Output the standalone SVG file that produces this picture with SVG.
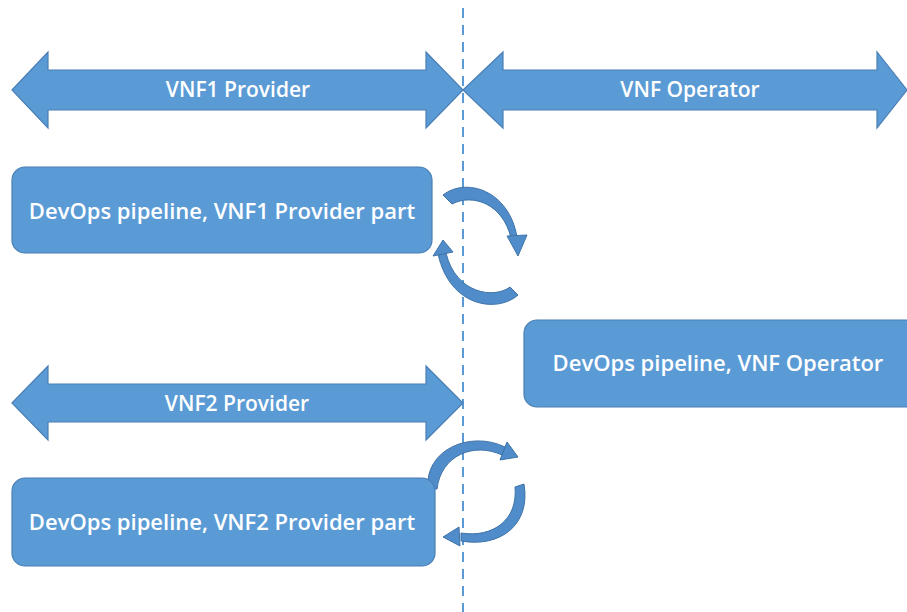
<svg xmlns="http://www.w3.org/2000/svg" width="907" height="612" viewBox="0 0 907 612">
<style>
.shape{fill:#5b9bd5;stroke:#4a7fb5;stroke-width:1.2}
.curve{fill:#4f8cc9;stroke:#3f73a8;stroke-width:1}
.lbl{font-family:"Open Sans","Liberation Sans",sans-serif;font-size:21px;font-weight:600;fill:#ffffff;text-anchor:middle;dominant-baseline:central}
.box{font-size:22px}
</style>
<rect width="907" height="612" fill="#ffffff"/>
<g id="connectors">
<line x1="463" y1="8" x2="463" y2="612" stroke="#5b9bd5" stroke-width="2" stroke-dasharray="10,7"/>
<g id="cycle-top">
<path class="curve" d="M443,195 C466,177 509,190 517,237 L511,238 C503,204 473,193 452,204 Z"/>
<path class="curve" d="M507,236 L527,235 L518,256 Z"/>
<path class="curve" d="M518,295 C498,313 450,308 438,254 L446,253 C456,294 494,299 510,287 Z"/>
<path class="curve" d="M433,256 L453,252 L443,240 Z"/>
</g>
<g id="cycle-bottom">
<path class="curve" d="M428,489 C424,450 470,430 505,447 L502,455 C474,442 441,455 437,489 Z"/>
<path class="curve" d="M507,442 L518,457 L500,460 Z"/>
<path class="curve" d="M524,484 C531,525 500,548 461,541 L461,533 C493,538 518,520 515,487 Z"/>
<path class="curve" d="M459,527 L443,537 L460,546 Z"/>
</g>
</g>
<g id="vnf1-provider">
<path class="shape" d="M12,90 L48,52 L48,70 L426,70 L426,52 L463,90 L426,128 L426,110 L48,110 L48,128 Z"/>
<text class="lbl" x="238" y="89">VNF1 Provider</text>
</g>
<g id="vnf-operator">
<path class="shape" d="M463,90 L503,52 L503,70 L877,70 L877,52 L907,90 L877,128 L877,110 L503,110 L503,128 Z"/>
<text class="lbl" x="690" y="89">VNF Operator</text>
</g>
<g id="pipeline-vnf1">
<rect class="shape" x="12" y="167" width="420" height="86" rx="13"/>
<text class="lbl box" x="222" y="210">DevOps pipeline, VNF1 Provider part</text>
</g>
<g id="pipeline-operator">
<rect class="shape" x="524" y="320" width="395" height="87" rx="13"/>
<text class="lbl box" x="718" y="362">DevOps pipeline, VNF Operator</text>
</g>
<g id="vnf2-provider">
<path class="shape" d="M12,403 L48,366 L48,384 L426,384 L426,366 L463,403 L426,440 L426,422 L48,422 L48,440 Z"/>
<text class="lbl" x="237" y="403">VNF2 Provider</text>
</g>
<g id="pipeline-vnf2">
<rect class="shape" x="12" y="478" width="423" height="88" rx="13"/>
<text class="lbl box" x="222" y="521">DevOps pipeline, VNF2 Provider part</text>
</g>
</svg>
